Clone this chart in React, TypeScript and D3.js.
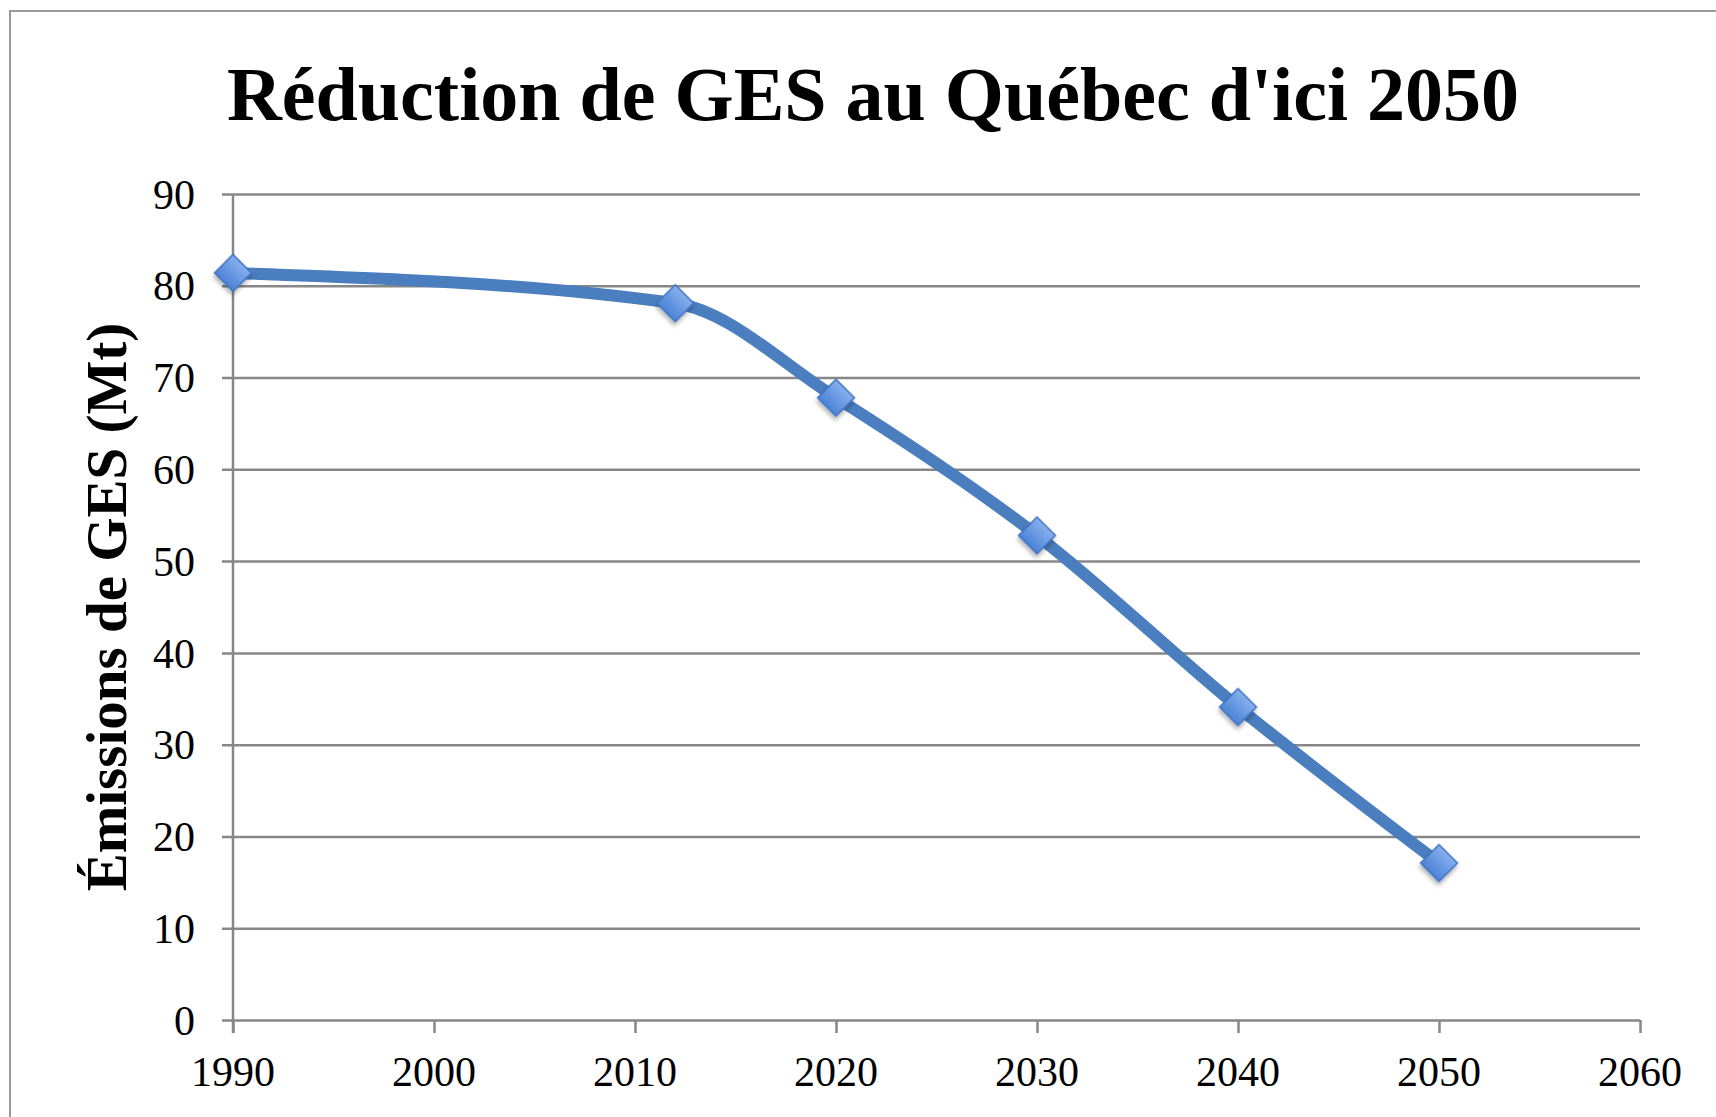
import { useEffect, useRef } from "react";
import * as d3 from "d3";

// data
const years = [1990, 2012, 2020, 2030, 2040, 2050];
const emissions = [81.4, 78.1, 67.8, 52.8, 34.1, 17.1];
const xTicks = [1990, 2000, 2010, 2020, 2030, 2040, 2050, 2060];
const yTicks = [0, 10, 20, 30, 40, 50, 60, 70, 80, 90];

const title = "Réduction de GES au Québec d'ici 2050";
const yTitle = "Émissions de GES (Mt)";

const W = 1716,
  H = 1117;
const margin = { top: 194, right: 76, bottom: 97, left: 233 };
const width = W - margin.left - margin.right,
  height = H - margin.top - margin.bottom;

const App = () => {
  const ref = useRef<SVGSVGElement | null>(null);

  useEffect(() => {
    if (!ref.current) return;
    const root = d3.select(ref.current);
    root.selectAll("*").remove();

    const defs = root.append("defs");
    const grad = defs
      .append("linearGradient")
      .attr("id", "mk")
      .attr("x1", 0)
      .attr("y1", 0)
      .attr("x2", 0)
      .attr("y2", 1);
    grad.append("stop").attr("offset", "0%").attr("stop-color", "#86b0ee");
    grad.append("stop").attr("offset", "100%").attr("stop-color", "#4c82d6");
    defs
      .append("filter")
      .attr("id", "shadow")
      .attr("x", "-50%")
      .attr("y", "-50%")
      .attr("width", "200%")
      .attr("height", "200%")
      .append("feDropShadow")
      .attr("dx", 2)
      .attr("dy", 3)
      .attr("stdDeviation", 2)
      .attr("flood-color", "#000")
      .attr("flood-opacity", 0.3);

    root.append("rect").attr("width", W).attr("height", H).attr("fill", "#fff");

    // frame (only top and left edges are visible in the crop)
    root
      .append("path")
      .attr("d", `M10,${H} L10,11 L${W},11`)
      .attr("fill", "none")
      .attr("stroke", "#9a9a9a")
      .attr("stroke-width", 2);

    root
      .append("text")
      .attr("x", 873)
      .attr("y", 120)
      .attr("text-anchor", "middle")
      .style("font", "bold 76px 'Liberation Serif'")
      .attr("fill", "#000")
      .text(title);

    root
      .append("text")
      .attr("transform", "translate(126,607) rotate(-90)")
      .attr("text-anchor", "middle")
      .style("font", "bold 57px 'Liberation Serif'")
      .attr("fill", "#000")
      .text(yTitle);

    const g = root
      .append("g")
      .attr("transform", "translate(" + margin.left + "," + margin.top + ")");

    const x = d3.scaleLinear().domain([1990, 2060]).range([0, width]);
    const y = d3.scaleLinear().domain([0, 90]).range([height, 0]);

    const gridColor = "#878787";

    // y axis with gridlines
    const yAxis = g
      .append("g")
      .call(d3.axisLeft(y).tickValues(yTicks).tickSize(-width).tickPadding(0).tickFormat(() => ""));
    yAxis.select(".domain").remove();
    yAxis
      .selectAll(".tick line")
      .attr("x1", -11)
      .attr("stroke", gridColor)
      .attr("stroke-width", 2.5);

    g.append("g")
      .selectAll("text")
      .data(yTicks)
      .enter()
      .append("text")
      .attr("x", -38)
      .attr("y", (d) => y(d))
      .attr("dy", "0.35em")
      .attr("text-anchor", "end")
      .style("font", "42px 'Liberation Serif'")
      .attr("fill", "#000")
      .text((d) => d);

    // x axis
    const xAxis = g
      .append("g")
      .attr("transform", "translate(0," + height + ")")
      .call(d3.axisBottom(x).tickValues(xTicks).tickSize(13).tickFormat(() => ""));
    xAxis.select(".domain").remove();
    xAxis.selectAll(".tick line").attr("stroke", gridColor).attr("stroke-width", 2.5);

    g.append("line")
      .attr("x1", 0)
      .attr("x2", 0)
      .attr("y1", 0)
      .attr("y2", height + 13)
      .attr("stroke", gridColor)
      .attr("stroke-width", 2.5);

    g.append("g")
      .selectAll("text")
      .data(xTicks)
      .enter()
      .append("text")
      .attr("x", (d) => x(d))
      .attr("y", height + 66)
      .attr("text-anchor", "middle")
      .style("font", "42px 'Liberation Serif'")
      .attr("fill", "#000")
      .text((d) => d);

    const pts = years.map((yr, i) => [yr, emissions[i]] as [number, number]);

    const line = d3
      .line<[number, number]>()
      .x((d) => x(d[0]))
      .y((d) => y(d[1]))
      .curve(d3.curveMonotoneX);

    g.append("path")
      .datum(pts)
      .attr("d", line)
      .attr("fill", "none")
      .attr("stroke", "#4a7ebf")
      .attr("stroke-width", 12)
      .attr("stroke-linecap", "round");

    const diamond = d3.symbol().type(d3.symbolSquare).size(26 * 26);

    g.append("g")
      .selectAll("path")
      .data(pts)
      .enter()
      .append("path")
      .attr("d", diamond)
      .attr("transform", (d) => `translate(${x(d[0])},${y(d[1])}) rotate(45)`)
      .attr("fill", "url(#mk)")
      .attr("stroke", "#3f72c0")
      .attr("stroke-width", 1.5)
      .attr("filter", "url(#shadow)");
  }, []);

  return (
    <svg
      ref={ref}
      width={W}
      height={H}
      style={{ position: "absolute", left: 0, top: 0, display: "block" }}
    />
  );
};

export default App;
